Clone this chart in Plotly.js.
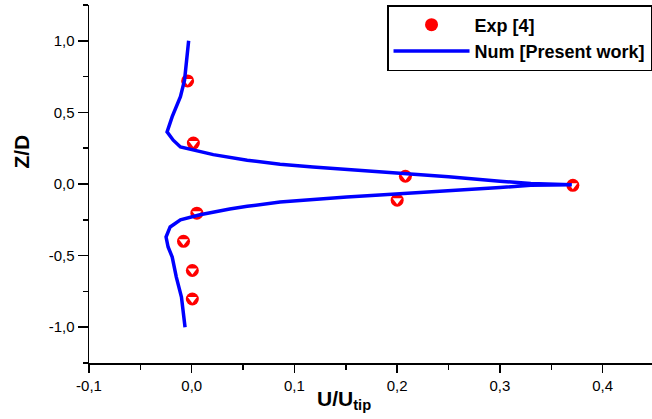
<!DOCTYPE html>
<html>
<head>
<meta charset="utf-8">
<script src="https://cdn.plot.ly/plotly-3.0.1.min.js"></script>
<style>
html,body{margin:0;padding:0;background:#fff;overflow:hidden;}
#chart{width:655px;height:419px;}
</style>
</head>
<body>
<div id="chart"></div>
<script>
// Experimental data (Exp [4])
const expX = [-0.004, 0.0016, 0.208, 0.371, 0.200, 0.005, -0.008, 0.0006, 0.0006];
const expY = [0.720, 0.286, 0.054, -0.009, -0.113, -0.204, -0.400, -0.604, -0.803];

// Numerical profile (Num [Present work])
const numX = [-0.003, -0.005, -0.007, -0.011, -0.019, -0.024, -0.018, -0.011, 0.008, 0.021, 0.054, 0.086, 0.118, 0.151, 0.183, 0.203, 0.25, 0.30, 0.33, 0.37,
              0.33, 0.30, 0.25, 0.203, 0.183, 0.151, 0.118, 0.086, 0.054, 0.037, 0.008, -0.011, -0.021, -0.025, -0.023, -0.019, -0.015, -0.010, -0.0065];
const numY = [1.0, 0.865, 0.725, 0.61, 0.47, 0.364, 0.306, 0.259, 0.224, 0.205, 0.166, 0.138, 0.119, 0.103, 0.086, 0.078, 0.05, 0.02, 0.004, -0.005,
              -0.008, -0.025, -0.045, -0.067, -0.076, -0.091, -0.109, -0.126, -0.156, -0.175, -0.215, -0.25, -0.30, -0.37, -0.44, -0.51, -0.65, -0.79, -1.0];

// Ticks
const xTickVals = [-0.1, 0.0, 0.1, 0.2, 0.3, 0.4];
const xTickText = ["-0,1", "0,0", "0,1", "0,2", "0,3", "0,4"];
const xMinorVals = [-0.05, 0.05, 0.15, 0.25, 0.35];
const yTickVals = [-1.0, -0.5, 0.0, 0.5, 1.0];
const yTickText = ["-1,0", "-0,5", "0,0", "0,5", "1,0"];
const yMinorVals = [-1.25, -0.75, -0.25, 0.25, 0.75, 1.25];

const seriesNames = ["Exp [4]", "Num [Present work]"];
const xTitle = "<b>U/U<sub>tip</sub></b>";
const yTitle = "<b>Z/D</b>";

const FONT = "'Liberation Sans', Arial, sans-serif";
const xRange = [-0.1, 0.45];
const yRange = [-1.25, 1.25];

const traces = [
  {
    x: expX, y: expY, type: 'scatter', mode: 'markers', name: seriesNames[0],
    marker: {symbol: 'circle', size: 13, color: '#ff0000', line: {width: 0}},
    hoverinfo: 'skip'
  },
  {
    x: expX, y: expY, type: 'scatter', mode: 'markers', showlegend: false,
    marker: {symbol: 'triangle-down', size: 8, color: '#ffffff', line: {width: 0}},
    hoverinfo: 'skip'
  },
  {
    x: numX, y: numY, type: 'scatter', mode: 'lines', name: seriesNames[1],
    line: {color: '#0000ff', width: 3.5},
    hoverinfo: 'skip'
  }
];

const axBase = {
  showgrid: false, zeroline: false, showline: true,
  linecolor: '#000', linewidth: 1.5, tickcolor: '#000', tickwidth: 1.5
};

const layout = {
  width: 655, height: 419,
  margin: {l: 89, r: 1, t: 5, b: 56, pad: 0},
  paper_bgcolor: '#fff', plot_bgcolor: '#fff',
  showlegend: true,
  legend: {
    x: 0.9965, xanchor: 'right', y: 1, yanchor: 'top',
    bgcolor: '#fff', bordercolor: '#000', borderwidth: 1.5,
    font: {family: FONT, size: 18, color: '#000', weight: 'bold'},
    itemwidth: 76, tracegroupgap: 0
  },
  xaxis: Object.assign({}, axBase, {
    range: xRange, tickmode: 'array', tickvals: xTickVals, ticktext: xTickText,
    ticks: 'outside', ticklen: 8,
    tickfont: {family: FONT, size: 15, color: '#000'},
    minor: {tickmode: 'array', tickvals: xMinorVals, ticks: 'outside', ticklen: 5, tickwidth: 1.5, tickcolor: '#000', showgrid: false}
  }),
  xaxis2: Object.assign({}, axBase, {
    range: xRange, overlaying: 'x', side: 'top', anchor: 'y',
    tickmode: 'array', tickvals: xTickVals, showticklabels: false,
    ticks: 'inside', ticklen: 8,
    minor: {tickmode: 'array', tickvals: xMinorVals, ticks: 'inside', ticklen: 5, tickwidth: 1.5, tickcolor: '#000', showgrid: false}
  }),
  yaxis: Object.assign({}, axBase, {
    range: yRange, tickmode: 'array', tickvals: yTickVals, ticktext: yTickText,
    ticks: 'outside', ticklen: 10,
    tickfont: {family: FONT, size: 15, color: '#000'},
    minor: {tickmode: 'array', tickvals: yMinorVals, ticks: 'outside', ticklen: 5, tickwidth: 1.5, tickcolor: '#000', showgrid: false}
  }),
  yaxis2: Object.assign({}, axBase, {
    range: yRange, overlaying: 'y', side: 'right', anchor: 'x',
    tickmode: 'array', tickvals: yTickVals, showticklabels: false,
    ticks: 'inside', ticklen: 8,
    minor: {tickmode: 'array', tickvals: yMinorVals, ticks: 'inside', ticklen: 5, tickwidth: 1.5, tickcolor: '#000', showgrid: false}
  }),
  annotations: [
    {
      text: xTitle, xref: 'paper', yref: 'paper', x: 0.451, y: -0.062,
      xanchor: 'center', yanchor: 'top', showarrow: false,
      font: {family: FONT, size: 21, color: '#000'}
    },
    {
      text: yTitle, xref: 'paper', yref: 'paper', x: -0.119, y: 0.59,
      xanchor: 'center', yanchor: 'middle', showarrow: false, textangle: -90,
      font: {family: FONT, size: 21, color: '#000'}
    }
  ]
};

Plotly.newPlot('chart', traces, layout, {displayModeBar: false, staticPlot: true});
</script>
</body>
</html>
